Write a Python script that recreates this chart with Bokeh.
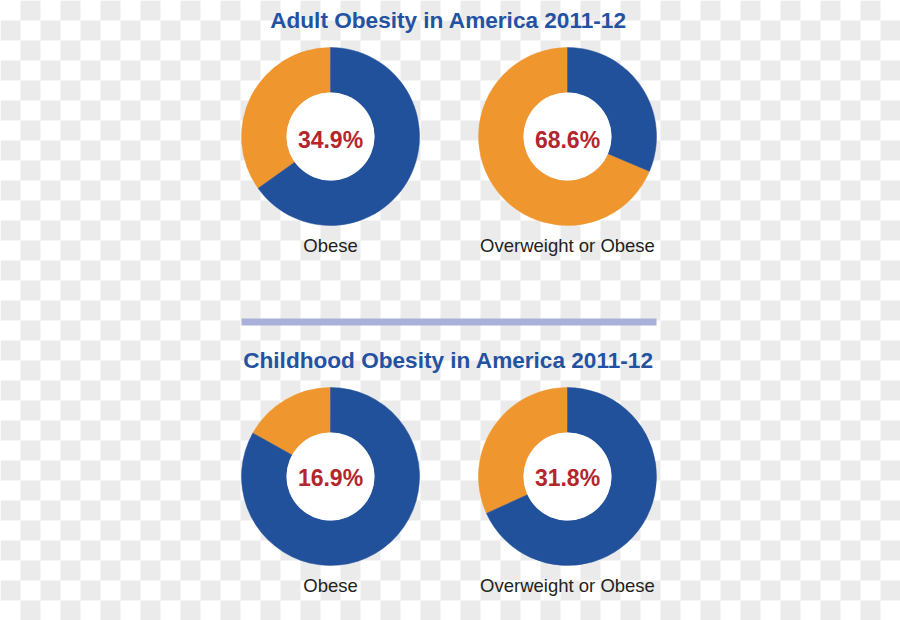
import math
from bokeh.plotting import figure
from bokeh.models import Range1d, ColumnDataSource
from bokeh.core.properties import value
from bokeh.embed import file_html
from bokeh.resources import INLINE

# ---- data ----
titles = ["Adult Obesity in America 2011-12", "Childhood Obesity in America 2011-12"]
categories = ["Obese", "Overweight or Obese"]
adult_pct = [34.9, 68.6]
child_pct = [16.9, 31.8]

# ---- styling / layout ----
W, H = 900, 620
BLUE = "#22519C"
ORANGE = "#F0962F"
RED = "#B2262C"
TITLE_BLUE = "#2452A2"
LABEL = "#231F20"
GRID_GREY = "#EBEBEB"
DIVIDER = "#A9B1DB"
FONT = "Liberation Sans"

TXT_SHIFT = 8  # text renders a little low; compensate

def X(rx):  # reference pixel x -> data x
    return rx

def Y(ry):  # reference pixel y -> data y
    return H - ry

def YT(ry):  # baseline position for text
    return H - ry + TXT_SHIFT

col_x = [330, 567]
row_y = [136, 476]
pct_base = [147, 485]
label_base = [253, 593]
title_base = [28, 368]
R_OUT, R_IN = 89, 44

p = figure(width=W, height=H, x_range=Range1d(0, W), y_range=Range1d(0, H),
           output_backend="svg", toolbar_location=None, min_border=0,
           x_axis_type=None, y_axis_type=None)
p.grid.visible = False
p.outline_line_color = None
p.background_fill_color = "white"
p.border_fill_color = "white"

# checkerboard backdrop (transparency pattern of the original image)
cx, cy = [], []
for i in range(0, 46):
    for j in range(0, 32):
        if (i + j) % 2 == 1:
            cx.append(X(i * 20 + 10))
            cy.append(Y(j * 20 + 10))
p.rect(x=cx, y=cy, width=20, height=20, fill_color=GRID_GREY, line_color=None)

# donuts
rows = [adult_pct, child_pct]
wx, wy, ws, we, wc = [], [], [], [], []
tx, ty, tt = [], [], []
lx, ly, lt = [], [], []
for r, vals in enumerate(rows):
    for c, v in enumerate(vals):
        x0, y0 = X(col_x[c]), Y(row_y[r])
        a0 = math.pi / 2
        a1 = a0 + 2 * math.pi * v / 100.0
        wx += [x0, x0]; wy += [y0, y0]
        ws += [a0, a1]; we += [a1, a0 + 2 * math.pi]
        wc += [ORANGE, BLUE]
        tx.append(x0); ty.append(YT(pct_base[r])); tt.append(f"{v:.1f}%")
        lx.append(x0); ly.append(YT(label_base[r])); lt.append(categories[c])

src = ColumnDataSource(dict(x=wx, y=wy, s=ws, e=we, c=wc))
p.annular_wedge(x="x", y="y", inner_radius=R_IN, outer_radius=R_OUT,
                start_angle="s", end_angle="e", direction="anticlock",
                fill_color="c", line_color="c", line_width=0.5, source=src)
p.circle(x=[X(col_x[c]) for r in range(2) for c in range(2)],
         y=[Y(row_y[r]) for r in range(2) for c in range(2)],
         radius=R_IN, fill_color="white", line_color=None)

p.text(x=tx, y=ty, text=tt, text_font=value(FONT), text_font_style="bold",
       text_font_size="23px", text_color=RED, text_align="center",
       text_baseline="alphabetic")
p.text(x=lx, y=ly, text=lt, text_font=value(FONT), text_font_size="18.5px",
       text_color=LABEL, text_align="center", text_baseline="alphabetic")

# titles
p.text(x=[X(448), X(448)], y=[YT(title_base[0]), YT(title_base[1])], text=titles,
       text_font=value(FONT), text_font_style="bold", text_font_size="22.6px",
       text_color=TITLE_BLUE, text_align="center", text_baseline="alphabetic")

# divider bar
p.quad(left=[X(241)], right=[X(656)], top=[Y(318)], bottom=[Y(325)],
       fill_color=DIVIDER, line_color=None)

open("out.html", "w").write(file_html(p, INLINE))
